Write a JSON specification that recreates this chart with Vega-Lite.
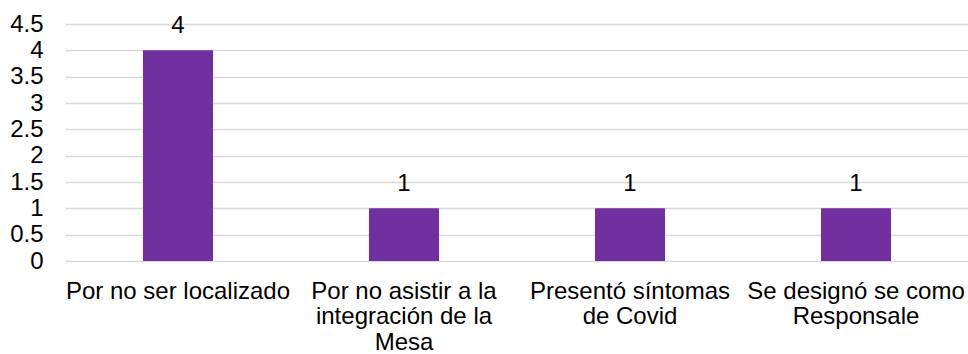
{
  "$schema": "https://vega.github.io/schema/vega-lite/v6.json",
  "autosize": "none",
  "width": 904,
  "height": 237,
  "padding": {"left": 65, "top": 24, "right": 0, "bottom": 93},
  "background": "white",
  "config": {
    "font": "Liberation Sans",
    "view": {"stroke": null}
  },
  "data": {
    "values": [
      {"motivo": "Por no ser localizado", "valor": 4, "orden": 1},
      {"motivo": "Por no asistir a la|integración de la|Mesa", "valor": 1, "orden": 2},
      {"motivo": "Presentó síntomas|de Covid", "valor": 1, "orden": 3},
      {"motivo": "Se designó se como|Responsale", "valor": 1, "orden": 4}
    ]
  },
  "encoding": {
    "x": {
      "field": "motivo",
      "type": "nominal",
      "sort": {"field": "orden"},
      "scale": {"paddingInner": 0, "paddingOuter": 0},
      "axis": {
        "title": null,
        "labelAngle": 0,
        "labelExpr": "split(datum.label, '|')",
        "labelFont": "Liberation Sans",
        "labelFontSize": 24,
        "labelColor": "#000000",
        "labelLineHeight": 25.5,
        "labelPadding": 18,
        "ticks": false,
        "domain": false,
        "labelLimit": 400
      }
    },
    "y": {
      "field": "valor",
      "type": "quantitative",
      "scale": {"domain": [0, 4.5], "nice": false},
      "axis": {
        "title": null,
        "values": [0, 0.5, 1, 1.5, 2, 2.5, 3, 3.5, 4, 4.5],
        "format": "~g",
        "labelFont": "Liberation Sans",
        "labelFontSize": 24,
        "labelColor": "#000000",
        "labelPadding": 22,
        "ticks": false,
        "domain": false,
        "grid": true,
        "gridColor": "#d9d9d9",
        "gridWidth": 1.5
      }
    }
  },
  "layer": [
    {
      "mark": {"type": "bar", "color": "#7030A0", "width": {"band": 0.31}}
    },
    {
      "mark": {"type": "text", "dy": -17, "baseline": "alphabetic", "fontSize": 24, "font": "Liberation Sans", "color": "#000000"},
      "encoding": {"text": {"field": "valor", "type": "quantitative"}}
    }
  ]
}
